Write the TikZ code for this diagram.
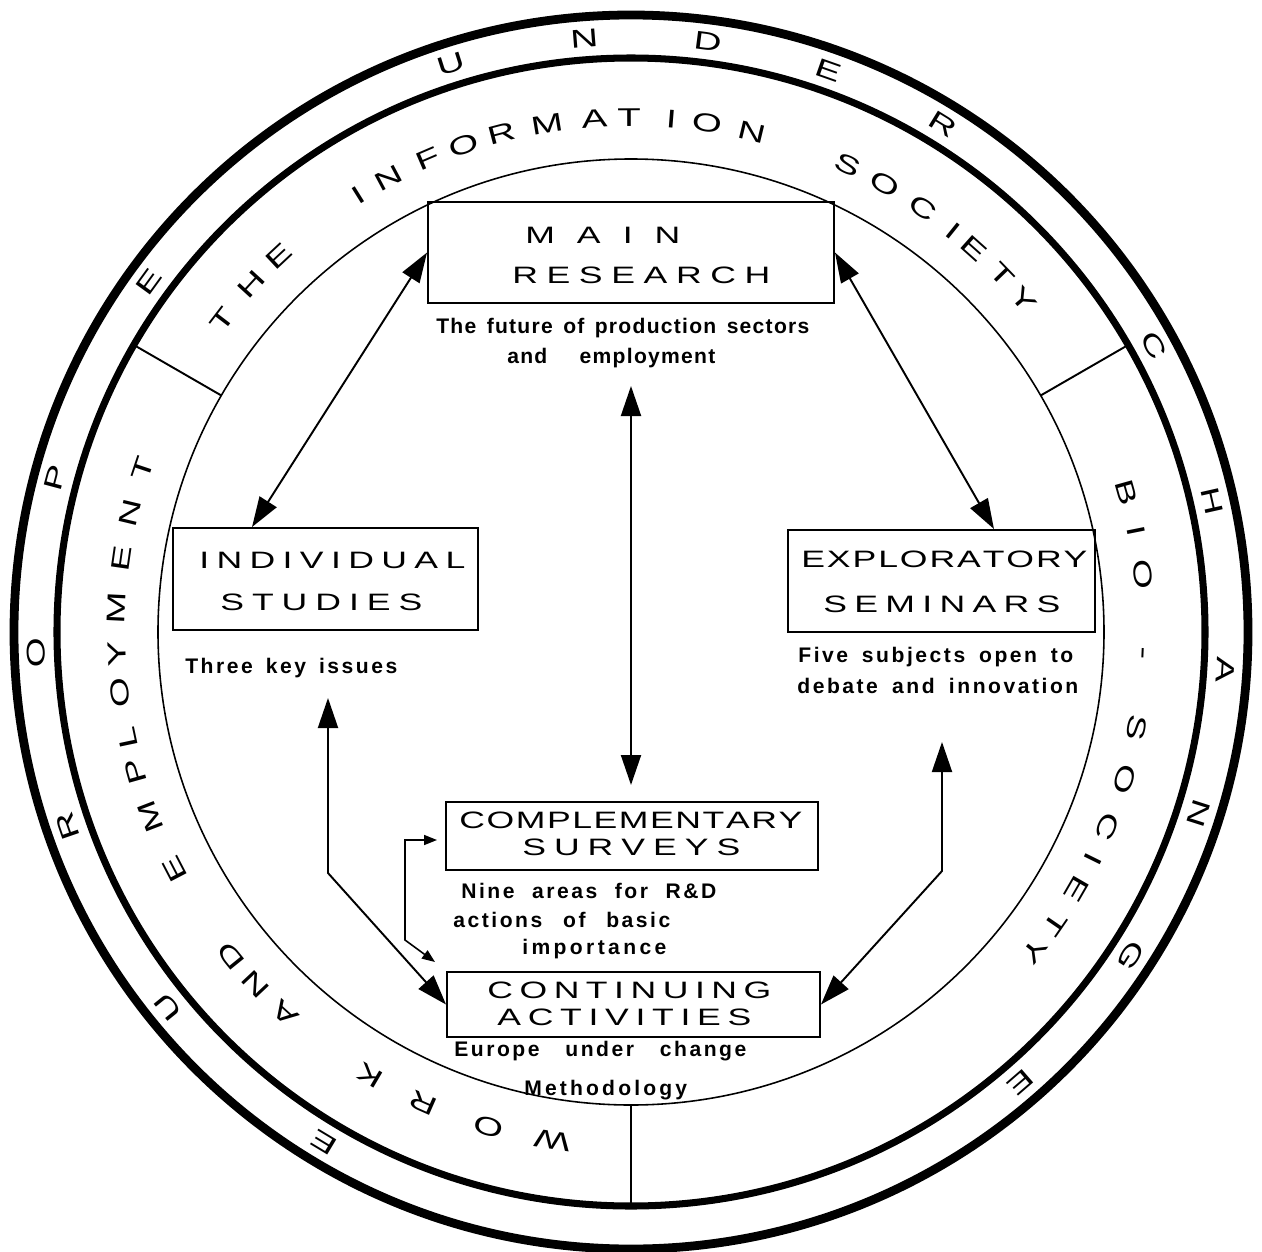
\documentclass[tikz,border=0pt]{standalone}
\usepackage{fontspec}
\usetikzlibrary{arrows.meta}
\setmainfont{Liberation Sans}
\newfontfamily\widefont{Liberation Sans}[FakeStretch=1.5]
\newfontfamily\capfont{Liberation Sans}[LetterSpace=12]
\newcommand\spreadit[2]{{\spaceskip=0pt plus 1fil\makebox[#1][s]{#2}}}
\begin{document}
\begin{tikzpicture}
\useasboundingbox (-12.62,-12.38) rectangle (12.62,12.64);
\draw[line width=5pt] (0,0) circle (12.34);
\draw[line width=4pt] (0,0) circle (11.48);
\draw[line width=0.9pt] (0,0) circle (9.46);
\draw[line width=1.1pt] (30:9.46) -- (30:11.48)
(150:9.46) -- (150:11.48)
(270:9.46) -- (270:11.48);
\tikzstyle{ring}=[inner sep=0pt,text height=10.4pt,text depth=0pt,font=\widefont\fontsize{14.6}{14.6}\selectfont];
\tikzstyle{box}=[draw,line width=1.1pt,inner sep=0pt];
\tikzstyle{title}=[inner sep=0pt,anchor=base west,font=\widefont\fontsize{13.5}{13.5}\selectfont];
\tikzstyle{captxt}=[inner sep=0pt,anchor=base west,font=\capfont\bfseries\fontsize{12}{12}\selectfont];
\tikzstyle{dbl}=[line width=1.1pt,{Triangle[length=0.6cm,width=0.4cm]}-{Triangle[length=0.6cm,width=0.4cm]}];
\tikzstyle{sml}=[line width=0.9pt,{Triangle[length=0.26cm,width=0.2cm]}-{Triangle[length=0.26cm,width=0.2cm]}];
% outer ring
\node[ring,rotate=149] (o1) at (239:11.92) {E};
\node[ring,rotate=129] (o2) at (219:11.92) {U};
\node[ring,rotate=109] (o3) at (199:11.92) {R};
\node[ring,rotate=92] (o4) at (182:11.92) {O};
\node[ring,rotate=75] (o5) at (165:11.92) {P};
\node[ring,rotate=54] (o6) at (144:11.92) {E};
\node[ring,rotate=17.6] (o7) at (107.6:11.92) {U};
\node[ring,rotate=4.5] (o8) at (94.5:11.92) {N};
\node[ring,rotate=-7.4] (o9) at (82.6:11.92) {D};
\node[ring,rotate=-19.4] (o10) at (70.6:11.92) {E};
\node[ring,rotate=-31.6] (o11) at (58.4:11.92) {R};
\node[ring,rotate=-61.3] (o12) at (28.7:11.92) {C};
\node[ring,rotate=-77.3] (o13) at (12.7:11.92) {H};
\node[ring,rotate=-93.6] (o14) at (-3.6:11.92) {A};
\node[ring,rotate=-107.7] (o15) at (-17.7:11.92) {N};
\node[ring,rotate=-122.9] (o16) at (-32.9:11.92) {G};
\node[ring,rotate=-139.1] (o17) at (-49.1:11.92) {E};
% middle ring
\node[ring,rotate=52.6] (i1) at (142.6:10.3) {T};
\node[ring,rotate=47.5] (i2) at (137.5:10.3) {H};
\node[ring,rotate=43.1] (i3) at (133.1:10.3) {E};
\node[ring,rotate=32] (i4) at (122:10.3) {I};
\node[ring,rotate=28.1] (i5) at (118.1:10.3) {N};
\node[ring,rotate=23.2] (i6) at (113.2:10.3) {F};
\node[ring,rotate=18.9] (i7) at (108.9:10.3) {O};
\node[ring,rotate=14.6] (i8) at (104.6:10.3) {R};
\node[ring,rotate=9.4] (i9) at (99.4:10.3) {M};
\node[ring,rotate=4.1] (i10) at (94.1:10.3) {A};
\node[ring,rotate=0.2] (i11) at (90.2:10.3) {T};
\node[ring,rotate=-4.5] (i12) at (85.5:10.3) {I};
\node[ring,rotate=-8.5] (i13) at (81.5:10.3) {O};
\node[ring,rotate=-13.6] (i14) at (76.4:10.3) {N};
\node[ring,rotate=-24.9] (i15) at (65.1:10.3) {S};
\node[ring,rotate=-29.6] (i16) at (60.4:10.3) {O};
\node[ring,rotate=-34.6] (i17) at (55.4:10.3) {C};
\node[ring,rotate=-38.8] (i18) at (51.2:10.3) {I};
\node[ring,rotate=-41.8] (i19) at (48.2:10.3) {E};
\node[ring,rotate=-46.1] (i20) at (43.9:10.3) {T};
\node[ring,rotate=-49.7] (i21) at (40.3:10.3) {Y};
\node[ring,rotate=-74.3] (b1) at (15.7:10.3) {B};
\node[ring,rotate=-78.7] (b2) at (11.3:10.3) {I};
\node[ring,rotate=-83.6] (b3) at (6.4:10.3) {O};
\node[ring,rotate=-92.4] (b4) at (-2.4:10.3) {-};
\node[ring,rotate=-100.7] (b5) at (-10.7:10.3) {S};
\node[ring,rotate=-106.6] (b6) at (-16.6:10.3) {O};
\node[ring,rotate=-112.2] (b7) at (-22.2:10.3) {C};
\node[ring,rotate=-116.2] (b8) at (-26.2:10.3) {I};
\node[ring,rotate=-120] (b9) at (-30:10.3) {E};
\node[ring,rotate=-124.6] (b10) at (-34.6:10.3) {T};
\node[ring,rotate=-128.3] (b11) at (-38.3:10.3) {Y};
\node[ring,rotate=171.2] (w1) at (261.2:10.3) {W};
\node[ring,rotate=163.9] (w2) at (253.9:10.3) {O};
\node[ring,rotate=156.2] (w3) at (246.2:10.3) {R};
\node[ring,rotate=149.5] (w4) at (239.5:10.3) {K};
\node[ring,rotate=137.8] (w5) at (227.8:10.3) {A};
\node[ring,rotate=133.2] (w6) at (223.2:10.3) {N};
\node[ring,rotate=129] (w7) at (219:10.3) {D};
\node[ring,rotate=117.5] (w8) at (207.5:10.3) {E};
\node[ring,rotate=111] (w9) at (201:10.3) {M};
\node[ring,rotate=105.7] (w10) at (195.7:10.3) {P};
\node[ring,rotate=101.9] (w11) at (191.9:10.3) {L};
\node[ring,rotate=96.8] (w12) at (186.8:10.3) {O};
\node[ring,rotate=92.4] (w13) at (182.4:10.3) {Y};
\node[ring,rotate=87.3] (w14) at (177.3:10.3) {M};
\node[ring,rotate=81.8] (w15) at (171.8:10.3) {E};
\node[ring,rotate=76.6] (w16) at (166.6:10.3) {N};
\node[ring,rotate=71.5] (w17) at (161.5:10.3) {T};
% boxes
\node[box,minimum width=8.12cm,minimum height=2.02cm] (main) at (0,7.59) {};
\node[box,minimum width=6.1cm,minimum height=2.04cm] (indiv) at (-6.11,1.06) {};
\node[box,minimum width=6.14cm,minimum height=2.04cm] (explor) at (6.21,1.02) {};
\node[box,minimum width=7.44cm,minimum height=1.36cm] (compl) at (0.02,-4.08) {};
\node[box,minimum width=7.46cm,minimum height=1.3cm] (contin) at (0.05,-7.45) {};
\node[title] (t1) at (-2.12,7.78) {\spreadit{3.10cm}{M A I N}};
\node[title] (t2) at (-2.38,6.98) {\spreadit{5.16cm}{R E S E A R C H}};
\node[title] (t3) at (-8.64,1.28) {\spreadit{5.32cm}{I N D I V I D U A L}};
\node[title] (t4) at (-8.22,0.44) {\spreadit{4.04cm}{S T U D I E S}};
\node[title] (t5) at (3.40,1.30) {\spreadit{5.72cm}{E X P L O R A T O R Y}};
\node[title] (t6) at (3.84,0.40) {\spreadit{4.74cm}{S E M I N A R S}};
\node[title] (t7) at (-3.44,-3.92) {\spreadit{6.86cm}{C O M P L E M E N T A R Y}};
\node[title] (t8) at (-2.18,-4.46) {\spreadit{4.36cm}{S U R V E Y S}};
\node[title] (t9) at (-2.88,-7.32) {\spreadit{5.68cm}{C O N T I N U I N G}};
\node[title] (t10) at (-2.68,-7.86) {\spreadit{5.08cm}{A C T I V I T I E S}};
% captions
\node[captxt] (c1) at (-3.90,5.98) {\addfontfeature{LetterSpace=6}\makebox[7.46cm][s]{The future of production sectors}};
\node[captxt] (c2) at (-2.48,5.38) {\addfontfeature{LetterSpace=6}\makebox[4.16cm][s]{and employment}};
\node[captxt] (c3) at (-8.92,-0.82) {\makebox[4.24cm][s]{Three key issues}};
\node[captxt] (c4) at (3.34,-0.60) {\makebox[5.50cm][s]{Five subjects open to}};
\node[captxt] (c5) at (3.32,-1.22) {\makebox[5.62cm][s]{debate and innovation}};
\node[captxt] (c6) at (-3.40,-5.32) {\makebox[5.10cm][s]{Nine areas for R\&D}};
\node[captxt] (c7) at (-3.56,-5.90) {\makebox[4.34cm][s]{actions of basic}};
\node[captxt] (c8) at (-2.18,-6.44) {\addfontfeature{LetterSpace=16}importance};
\node[captxt] (c9) at (-3.54,-8.48) {\makebox[5.84cm][s]{Europe under change}};
\node[captxt] (c10) at (-2.14,-9.26) {\addfontfeature{LetterSpace=15}Methodology};
% arrows
\coordinate (m1) at (0,4.92);
\coordinate (m2) at (0,-3.06);
\coordinate (k1) at (-6.06,-1.32);
\coordinate (k2) at (-6.06,-4.82);
\coordinate (k3) at (6.22,-2.20);
\coordinate (k4) at (6.22,-4.78);
\coordinate (k5) at (-4.52,-4.16);
\coordinate (k6) at (-4.52,-6.16);
\coordinate (k7) at (-3.92,-6.60);
\draw[dbl] (main.west) -- ([xshift=1.6cm]indiv.north west);
\draw[dbl] (main.east) -- ([xshift=-2.04cm]explor.north east);
\draw[dbl] (m1) -- (m2);
\draw[dbl] (k1) -- (k2) -- (contin.west);
\draw[dbl] (k3) -- (k4) -- (contin.east);
\draw[sml] ([shift={(-0.16,-0.08)}]compl.west) -- (k5) -- (k6) -- (k7);
\end{tikzpicture}
\end{document}
